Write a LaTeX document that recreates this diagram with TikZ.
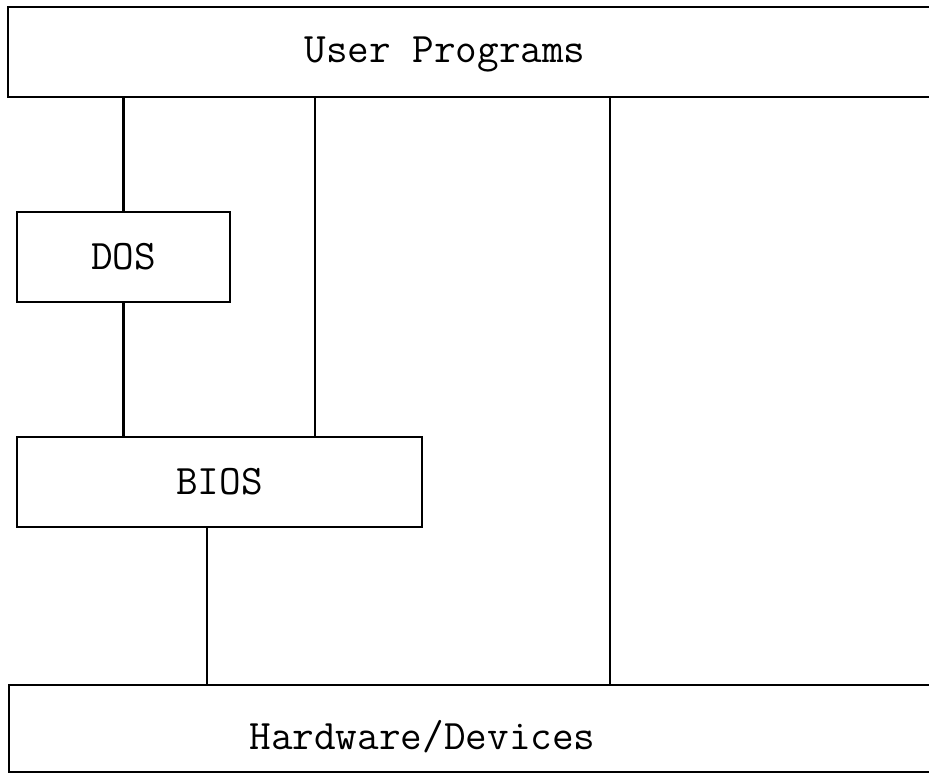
\documentclass[tikz,border=0pt]{standalone}
\begin{document}
\begin{tikzpicture}[x=1pt,y=-1pt,
  box/.style={draw=black,line width=2.6pt,rectangle,inner sep=0pt},
  lbl/.style={font=\fontsize{42}{46}\selectfont\ttfamily},
  link/.style={draw=black,line width=2.4pt}]
\useasboundingbox (0,0) rectangle (929,774);
\clip (0,0) rectangle (929,774);
\fill[white] (0,0) rectangle (929,774);
\node[box,minimum width=942pt,minimum height=90pt,
  label={[lbl,xshift=-34pt,yshift=-2pt]center:User Programs}] (user) at (479,52) {};
\node[box,lbl,minimum width=213pt,minimum height=90pt] (dos) at (123.5,257) {DOS};
\node[box,lbl,minimum width=405pt,minimum height=90pt] (bios) at (219.5,482) {BIOS};
\node[box,minimum width=941pt,minimum height=87pt,
  label={[lbl,xshift=-57pt,yshift=-8pt]center:Hardware/Devices}] (hw) at (479.5,728.5) {};
\coordinate (cx1) at (315,0);
\coordinate (cx2) at (610,0);
\coordinate (cx3) at (207,0);
\draw[link] (dos.north) -- (dos.north |- user.south);
\draw[link] (dos.south) -- (dos.south |- bios.north);
\draw[link] (cx1 |- user.south) -- (cx1 |- bios.north);
\draw[link] (cx2 |- user.south) -- (cx2 |- hw.north);
\draw[link] (cx3 |- bios.south) -- (cx3 |- hw.north);
\end{tikzpicture}
\end{document}
